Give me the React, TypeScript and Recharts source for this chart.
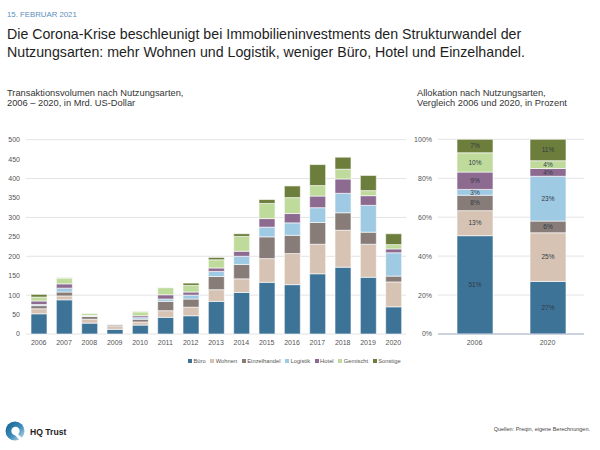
import React from "react";
import { BarChart, Bar, XAxis, YAxis, CartesianGrid, LabelList } from "recharts";

// Transaktionsvolumen in Mrd. US-Dollar
const years = ["2006", "2007", "2008", "2009", "2010", "2011", "2012", "2013", "2014", "2015", "2016", "2017", "2018", "2019", "2020"];
const bueroVol = [52, 88, 28, 12, 23, 43, 47, 84, 107, 133, 127, 155, 172, 146, 70];
const wohnenVol = [13, 10, 10, 9, 8, 17, 22, 30, 35, 61, 80, 76, 95, 85, 64];
const einzelVol = [8, 10, 7, 3, 7, 24, 21, 34, 37, 56, 47, 56, 45, 31, 15];
const logistikVol = [3, 10, 2, 1, 4, 6, 10, 13, 21, 25, 32, 38, 50, 69, 60];
const hotelVol = [9, 11, 1, 0, 5, 11, 8, 9, 13, 22, 24, 30, 37, 25, 10];
const gemischtVol = [10, 15, 5, 0, 10, 18, 17, 21, 38, 39, 41, 27, 25, 13, 11];
const sonstigeVol = [7, 1, 0, 0, 1, 0, 6, 6, 7, 10, 30, 54, 31, 39, 28];
const volumeTicks = [0, 50, 100, 150, 200, 250, 300, 350, 400, 450, 500];

// Allokation in Prozent
const shareYears = ["2006", "2020"];
const bueroShare = [51, 27];
const wohnenShare = [13, 25];
const einzelShare = [8, 6];
const logistikShare = [3, 23];
const hotelShare = [9, 4];
const gemischtShare = [10, 4];
const sonstigeShare = [7, 11];
const shareTicks = [0, 0.2, 0.4, 0.6, 0.8, 1];

const series = [
  { key: "buero", name: "Büro", color: "#3e7398" },
  { key: "wohnen", name: "Wohnen", color: "#d6c3b3" },
  { key: "einzel", name: "Einzelhandel", color: "#877c78" },
  { key: "logistik", name: "Logistik", color: "#9fcae3" },
  { key: "hotel", name: "Hotel", color: "#8d6a90" },
  { key: "gemischt", name: "Gemischt", color: "#bedb9c" },
  { key: "sonstige", name: "Sonstige", color: "#6d7e3c" },
];

const volumeData = years.map((year, i) => ({
  year,
  buero: bueroVol[i],
  wohnen: wohnenVol[i],
  einzel: einzelVol[i],
  logistik: logistikVol[i],
  hotel: hotelVol[i],
  gemischt: gemischtVol[i],
  sonstige: sonstigeVol[i],
}));

const shareData = shareYears.map((year, i) => ({
  year,
  buero: bueroShare[i],
  wohnen: wohnenShare[i],
  einzel: einzelShare[i],
  logistik: logistikShare[i],
  hotel: hotelShare[i],
  gemischt: gemischtShare[i],
  sonstige: sonstigeShare[i],
}));

const font = '"Liberation Sans", Arial, Helvetica, sans-serif';
const tickStyle = { fontSize: 7, fill: "#555" };

function Logo() {
  return (
    <svg width={24} height={24} style={{ position: "absolute", left: 4, top: 420 }}>
      <defs>
        <linearGradient id="hqGrad" x1="0" y1="0" x2="1" y2="1">
          <stop offset="0%" stopColor="#0f5d8c" />
          <stop offset="55%" stopColor="#3f8dbb" />
          <stop offset="100%" stopColor="#d7e8f2" />
        </linearGradient>
      </defs>
      <circle cx={11} cy={11} r={9.5} fill="url(#hqGrad)" />
      <circle cx={11.5} cy={11} r={4.2} fill="#fff" />
      <path d="M12 12 L21 21 L17 22 L10 14 Z" fill="#fff" />
    </svg>
  );
}

export default function App() {
  return (
    <div
      style={{
        position: "absolute",
        left: 0,
        top: 0,
        width: 600,
        height: 450,
        background: "#fff",
        fontFamily: font,
        color: "#222",
        overflow: "hidden",
      }}
    >
      <div style={{ position: "absolute", left: 7, top: 10, fontSize: 7.8, color: "#5a8dbd" }}>
        15. FEBRUAR 2021
      </div>
      <div style={{ position: "absolute", left: 7, top: 26, fontSize: 14.2, lineHeight: "17.5px", color: "#1e1e1e", whiteSpace: "nowrap" }}>
        Die Corona-Krise beschleunigt bei Immobilieninvestments den Strukturwandel der
        <br />
        Nutzungsarten: mehr Wohnen und Logistik, weniger Büro, Hotel und Einzelhandel.
      </div>

      <div style={{ position: "absolute", left: 7, top: 88, fontSize: 9.3, lineHeight: "10px", color: "#333" }}>
        Transaktionsvolumen nach Nutzungsarten,
        <br />
        2006 – 2020, in Mrd. US-Dollar
      </div>
      <div style={{ position: "absolute", left: 417, top: 88, fontSize: 9.3, lineHeight: "10px", color: "#333" }}>
        Allokation nach Nutzungsarten,
        <br />
        Vergleich 2006 und 2020, in Prozent
      </div>

      <div style={{ position: "absolute", left: 0, top: 130 }}>
        <BarChart
          width={415}
          height={230}
          data={volumeData}
          margin={{ top: 9.7, right: 9, left: 0, bottom: 6 }}
          barSize={16}
        >
          <CartesianGrid vertical={false} stroke="#e3e3e3" />
          <XAxis dataKey="year" axisLine={false} tickLine={false} tick={tickStyle} height={20} interval={0} tickMargin={0} />
          <YAxis
            width={26}
            domain={[0, 500]}
            ticks={volumeTicks}
            axisLine={false}
            tickLine={false}
            tick={tickStyle}
            tickMargin={0}
          />
          {series.map((s) => (
            <Bar
              key={s.key}
              dataKey={s.key}
              name={s.name}
              stackId="v"
              fill={s.color}
              stroke="#fff"
              strokeWidth={0.6}
              isAnimationActive={false}
            />
          ))}
        </BarChart>
      </div>

      <div style={{ position: "absolute", left: 410, top: 130 }}>
        <BarChart
          width={180}
          height={230}
          data={shareData}
          stackOffset="expand"
          margin={{ top: 9.3, right: 6, left: 0, bottom: 6 }}
          barSize={36}
        >
          <CartesianGrid vertical={false} stroke="#e3e3e3" />
          <XAxis
            dataKey="year"
            axisLine={{ stroke: "#a9b5ca" }}
            tickLine={false}
            tick={tickStyle}
            height={20}
            tickMargin={0}
          />
          <YAxis
            width={28}
            domain={[0, 1]}
            ticks={shareTicks}
            axisLine={false}
            tickLine={false}
            tick={tickStyle}
            tickMargin={0}
            tickFormatter={(v: number) => `${Math.round(v * 100)}%`}
          />
          {series.map((s) => (
            <Bar
              key={s.key}
              dataKey={s.key}
              name={s.name}
              stackId="p"
              fill={s.color}
              stroke="#fff"
              strokeWidth={0.6}
              isAnimationActive={false}
            >
              <LabelList
                dataKey={s.key}
                position="center"
                formatter={(v: any) => `${v}%`}
                style={{ fontSize: 6.5, fill: "#2f3a44" }}
              />
            </Bar>
          ))}
        </BarChart>
      </div>

      <div
        style={{
          position: "absolute",
          left: 188,
          top: 358,
          display: "flex",
          gap: 4.5,
          fontSize: 5.8,
          color: "#555",
          whiteSpace: "nowrap",
        }}
      >
        {series.map((s) => (
          <div key={s.key} style={{ display: "flex", alignItems: "center", gap: 1.5 }}>
            <span style={{ width: 4, height: 4, background: s.color, display: "inline-block" }} />
            <span>{s.name}</span>
          </div>
        ))}
      </div>

      <Logo />
      <div style={{ position: "absolute", left: 30, top: 427, fontSize: 8.6, fontWeight: "bold", color: "#222" }}>
        HQ Trust
      </div>
      <div style={{ position: "absolute", right: 10, top: 426, fontSize: 5.5, color: "#444" }}>
        Quellen: Preqin, eigene Berechnungen.
      </div>
    </div>
  );
}
